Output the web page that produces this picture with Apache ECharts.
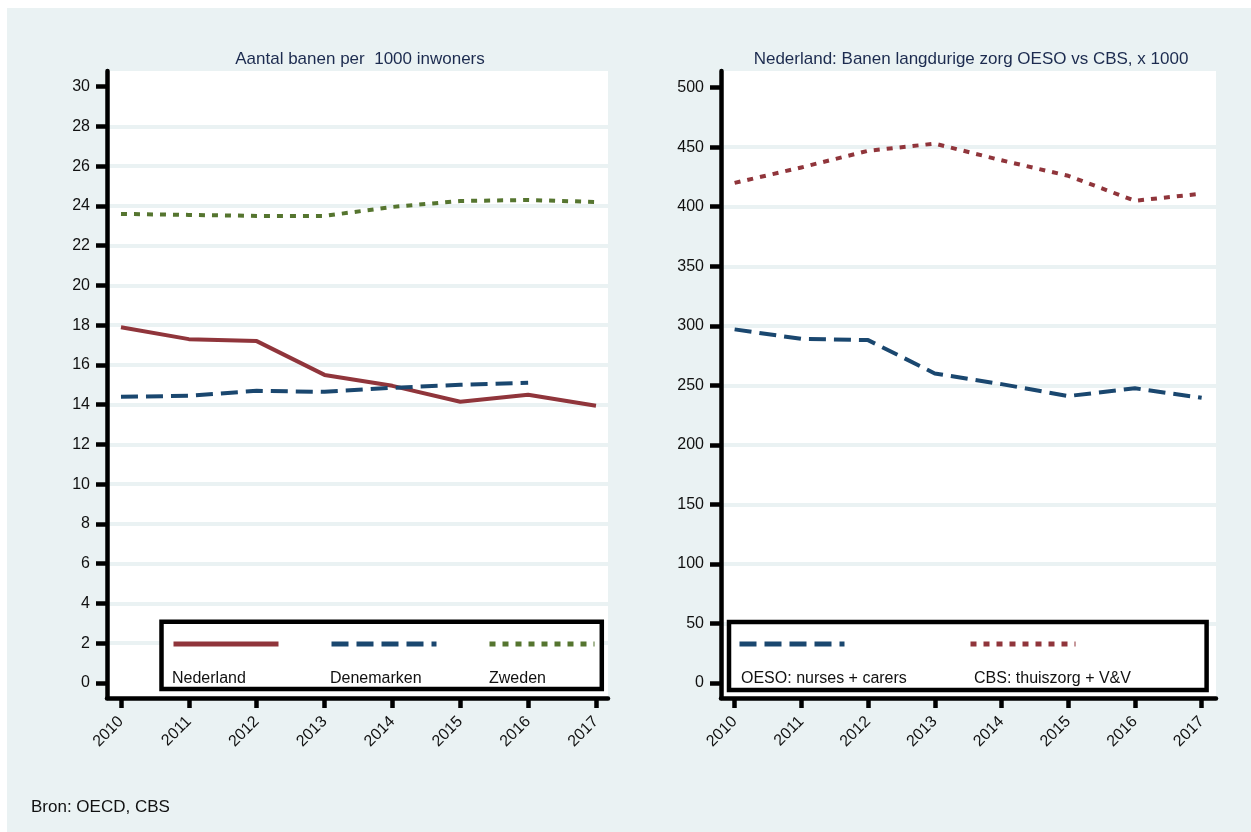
<!DOCTYPE html>
<html>
<head>
<meta charset="utf-8">
<script src="https://cdn.jsdelivr.net/npm/echarts@6/dist/echarts.min.js"></script>
<style>
  html, body { margin: 0; padding: 0; background: #ffffff; }
  #wrap { position: relative; width: 1251px; height: 832px; background: #ffffff; }
  #panel { position: absolute; left: 7px; top: 8px; width: 1244px; height: 824px; background: #eaf2f3; }
  #chart { position: absolute; left: 0; top: 0; width: 1251px; height: 832px; }
</style>
</head>
<body>
<div id="wrap"><div id="panel"></div><div id="chart"></div></div>
<script>
// ---- data ----
const years = [2010, 2011, 2012, 2013, 2014, 2015, 2016, 2017];
const nederland = [17.9, 17.3, 17.2, 15.5, 14.95, 14.15, 14.5, 13.95];
const denemarken = [14.4, 14.45, 14.7, 14.65, 14.85, 15.0, 15.1, null];
const zweden = [23.6, 23.55, 23.5, 23.5, 23.95, 24.25, 24.3, 24.2];
const oeso = [297, 289, 288, 260, 251, 241, 247.5, 239.5];
const cbs = [420, 433, 447, 453, 439, 426, 405, 411];
const leftTicks = [0, 2, 4, 6, 8, 10, 12, 14, 16, 18, 20, 22, 24, 26, 28, 30];
const leftGrid = [2, 4, 6, 8, 10, 12, 14, 16, 18, 20, 22, 24, 26, 28];
const rightTicks = [0, 50, 100, 150, 200, 250, 300, 350, 400, 450, 500];
const rightGrid = [50, 100, 150, 200, 250, 300, 350, 400, 450];
const leftTitle = 'Aantal banen per  1000 inwoners';
const rightTitle = 'Nederland: Banen langdurige zorg OESO vs CBS, x 1000';
const sourceNote = 'Bron: OECD, CBS';
const leftNames = ['Nederland', 'Denemarken', 'Zweden'];
const rightNames = ['OESO: nurses + carers', 'CBS: thuiszorg + V&V'];

// ---- styling / layout ----
const FONT = 'Liberation Sans, Arial, sans-serif';
const NAVY = '#1a476f', MAROON = '#90353b', GREEN = '#55752f';
const BG = '#eaf2f3';
const leftLabelX = [167, 325, 484];
const rightLabelX = [736, 969];

function pairs(arr) {
  return years.map((y, i) => [y, arr[i]]).filter(p => p[1] !== null);
}

function xAxis(gi, min, max) {
  return {
    type: 'value', gridIndex: gi, min: min, max: max,
    axisLine: { show: true, onZero: false, lineStyle: { color: '#000', width: 4.5 } },
    axisTick: { show: true, customValues: years, length: 10, lineStyle: { color: '#000', width: 4.5 } },
    axisLabel: { customValues: years, rotate: 45, margin: 21, formatter: v => String(v),
                 fontFamily: FONT, fontSize: 16, color: '#111' },
    splitLine: { show: false }
  };
}
function yAxisMain(gi, min, max, ticks) {
  return {
    type: 'value', gridIndex: gi, min: min, max: max, position: 'left',
    axisLine: { show: true, onZero: false, lineStyle: { color: '#000', width: 4.5 } },
    axisTick: { show: true, customValues: ticks, length: 11, lineStyle: { color: '#000', width: 4.5 } },
    axisLabel: { customValues: ticks, margin: 17, fontFamily: FONT, fontSize: 16, color: '#111' },
    splitLine: { show: false }
  };
}
function yAxisGrid(gi, min, max, ticks) {
  return {
    type: 'value', gridIndex: gi, min: min, max: max, position: 'left',
    axisLine: { show: false }, axisLabel: { show: false },
    axisTick: { show: false, customValues: ticks },
    splitLine: { show: true, lineStyle: { color: BG, width: 4 } }
  };
}
function line(name, arr, xi, yi, color, type) {
  return {
    name: name, type: 'line', xAxisIndex: xi, yAxisIndex: yi,
    data: pairs(arr), symbol: 'none', showSymbol: false, z: 3,
    lineStyle: { color: color, width: 4, type: type, cap: 'butt', join: 'round' },
    itemStyle: { color: color }, emphasis: { disabled: true }, animation: false
  };
}
function sampleLegend(names, left, gap) {
  return { data: names, left: left, top: 637, padding: 0,
    itemWidth: 105, itemHeight: 14, itemGap: gap, formatter: () => '', selectedMode: false, z: 5,
    itemStyle: { opacity: 0 }, lineStyle: { width: 5 } };
}
function textLegends(names, lefts) {
  return names.map((n, i) => ({ data: [n], left: lefts[i], top: 671, padding: 0,
    icon: 'rect', itemWidth: 0, itemHeight: 14, selectedMode: false, z: 5,
    itemStyle: { opacity: 0 },
    textStyle: { fontFamily: FONT, fontSize: 16, color: '#111' } }));
}

const chart = echarts.init(document.getElementById('chart'), null, { renderer: 'canvas' });
chart.setOption({
  backgroundColor: 'transparent',
  animation: false,
  textStyle: { fontFamily: FONT },
  title: [
    { text: leftTitle, left: 360, top: 51, textAlign: 'center', padding: 0,
      textStyle: { fontFamily: FONT, fontSize: 17, fontWeight: 'normal', color: '#1c2b4f' } },
    { text: rightTitle, left: 971, top: 51, textAlign: 'center', padding: 0,
      textStyle: { fontFamily: FONT, fontSize: 17, fontWeight: 'normal', color: '#1c2b4f' } },
    { text: sourceNote, left: 31, top: 799, padding: 0,
      textStyle: { fontFamily: FONT, fontSize: 17, fontWeight: 'normal', color: '#111' } }
  ],
  grid: [
    { left: 107, top: 71, width: 501, height: 627, show: true, backgroundColor: '#fff', borderWidth: 0, containLabel: false },
    { left: 721, top: 71, width: 495, height: 627, show: true, backgroundColor: '#fff', borderWidth: 0, containLabel: false }
  ],
  xAxis: [
    xAxis(0, 2009.794, 2017.177),
    xAxis(1, 2009.796, 2017.215)
  ],
  yAxis: [
    yAxisMain(0, -0.755, 30.79, leftTicks),
    yAxisGrid(0, -0.755, 30.79, leftGrid),
    yAxisMain(1, -12.6, 514, rightTicks),
    yAxisGrid(1, -12.6, 514, rightGrid)
  ],
  legend: [
    sampleLegend(leftNames, 171, 48),
    sampleLegend(rightNames, 737, 121)
  ].concat(textLegends(leftNames, leftLabelX), textLegends(rightNames, rightLabelX)),
  graphic: [
    { type: 'rect', z: 4, shape: { x: 161.5, y: 621.7, width: 440.3, height: 67.3 },
      style: { fill: '#fff', stroke: '#000', lineWidth: 4.5 } },
    { type: 'rect', z: 4, shape: { x: 729, y: 622, width: 477.6, height: 68 },
      style: { fill: '#fff', stroke: '#000', lineWidth: 4.5 } }
  ],
  series: [
    line('Nederland', nederland, 0, 0, MAROON, 'solid'),
    line('Denemarken', denemarken, 0, 0, NAVY, [17, 8]),
    line('Zweden', zweden, 0, 0, GREEN, [6, 7]),
    line(rightNames[0], oeso, 1, 2, NAVY, [17, 8]),
    line(rightNames[1], cbs, 1, 2, MAROON, [6, 7])
  ]
});
</script>
</body>
</html>
